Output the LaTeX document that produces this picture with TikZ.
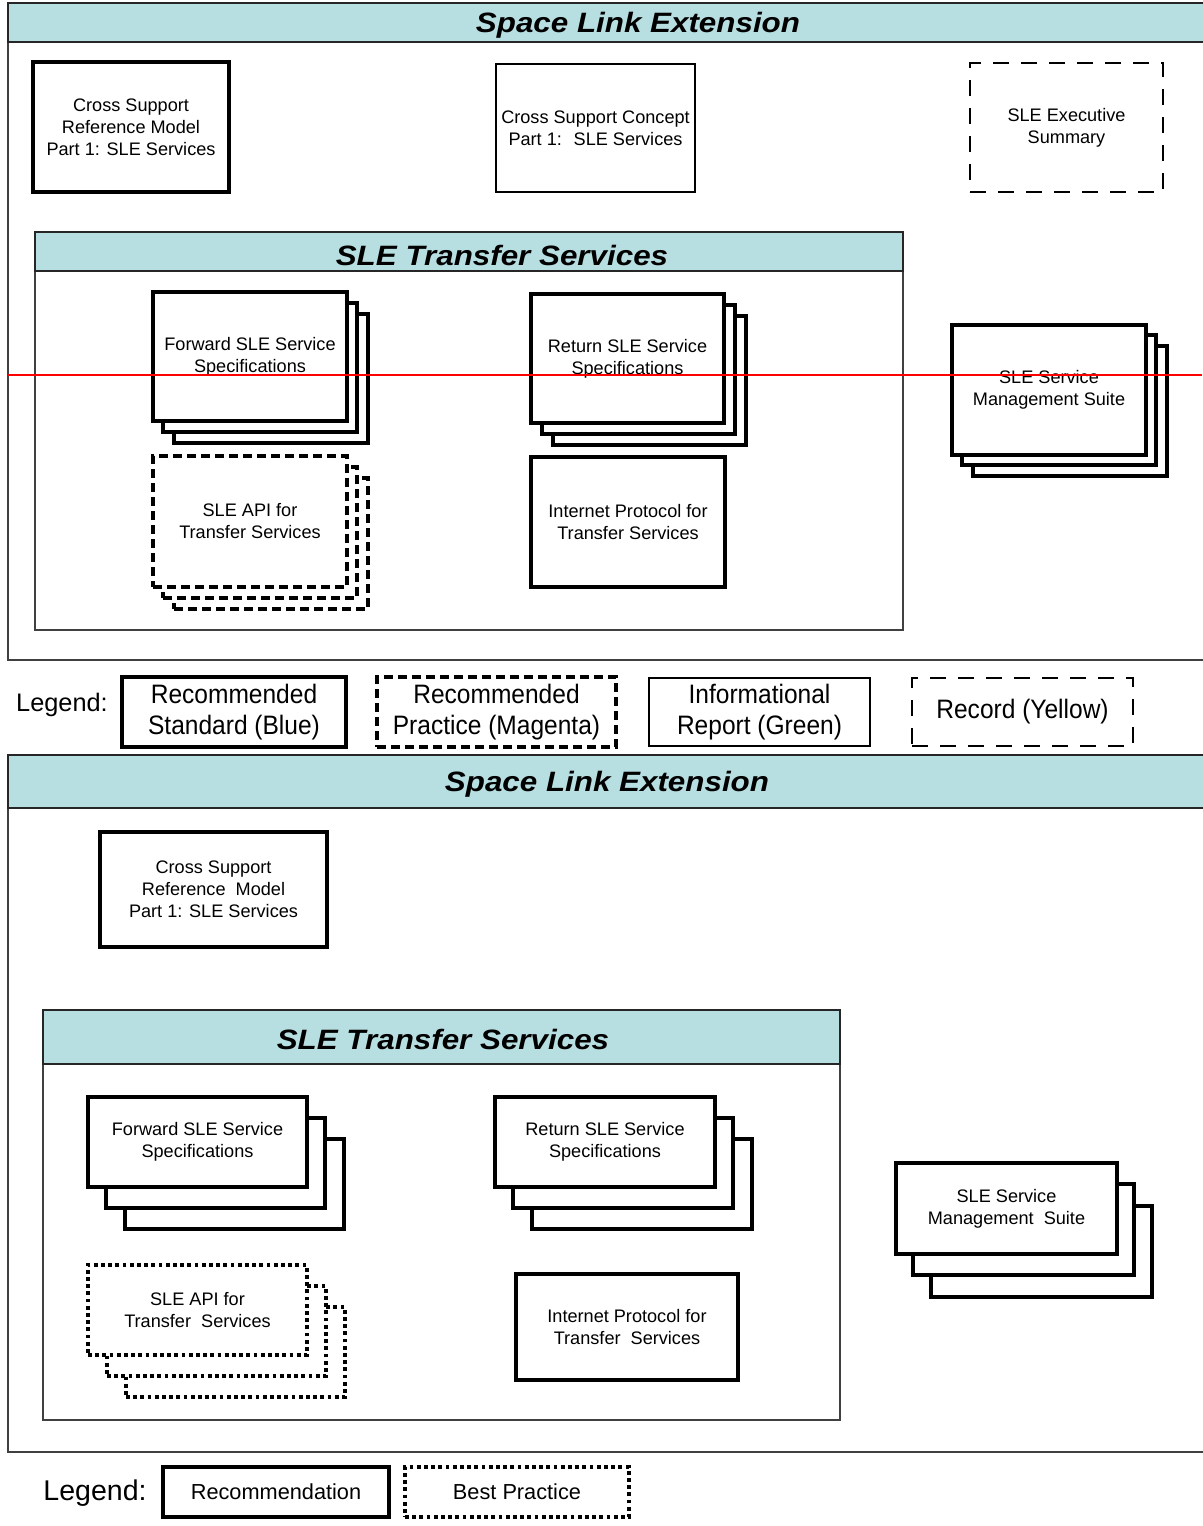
\documentclass[tikz,border=0pt]{standalone}
\usepackage{fontspec}
\setmainfont{Liberation Sans}
\newfontfamily\hdrfont[FakeStretch=1.12]{Liberation Sans}
\newfontfamily\legfont[FakeStretch=0.92]{Liberation Sans}
\usepackage{tikz}
\definecolor{hdrblue}{RGB}{183,222,225}

\begin{document}
\begin{tikzpicture}[
        x=0.75pt, y=-0.75pt,
        panel/.style={draw=black!75, line width=1.1pt},
        band/.style={fill=hdrblue, draw=black!85, line width=1.3pt},
        hdr/.style={font=\hdrfont\fontsize{21}{24}\selectfont\bfseries\itshape},
        wh/.style 2 args={minimum width=#1, minimum height=#2},
        doc/.style={
          rectangle,
          draw,
          fill=white,
          align=center,
          inner sep=0pt,
          font=\fontsize{13.6}{16.5}\selectfont
        },
        stdbox/.style={doc, line width=3pt},
        midbox/.style={doc, line width=2.6pt},
        thinbox/.style={doc, line width=1.1pt},
        pracbox/.style={doc, line width=3pt, dash pattern=on 7pt off 3.5pt},
        recbox/.style={doc, line width=1.1pt, dash pattern=on 12pt off 9pt},
        dotbox/.style={doc, line width=2.6pt, dash pattern=on 2.8pt off 2.6pt},
        leg/.style={font=\legfont\fontsize{20}{23.5}\selectfont},
        legB/.style={font=\fontsize{16.3}{19}\selectfont}
      ]

      \useasboundingbox (0,0) rectangle (1202,1526);
      \fill[white] (0,0) rectangle (1202,1526);

      % Upper panel
      \draw[panel] (8,3) rectangle (1210,660);
      \draw[band] (8,3) rectangle (1210,42);
      \node[hdr] (sleA) at (638,25) {Space Link Extension};

      \node[stdbox, wh={147pt}{97.5pt}] (csrmA) at (131,127) {Cross Support\\Reference Model\\Part 1: SLE Services};
      \node[thinbox, wh={149.25pt}{96pt}] (cscA) at (595.5,128) {Cross Support Concept\\Part 1:~ SLE Services};
      \node[recbox, wh={144.75pt}{96.75pt}] (execA) at (1066.5,127.5) {SLE Executive\\Summary};

      \draw[panel] (35,232) rectangle (903,630);
      \draw[band] (35,232) rectangle (903,271);
      \node[hdr] (tsA) at (502,255) {SLE Transfer Services};

      % Stacks (back copies first)
      \node[stdbox, wh={145.5pt}{96.75pt}] (fwdA3) at (271,378.5) {};
      \node[stdbox, wh={145.5pt}{96.75pt}] (fwdA2) at (260,367.5) {};
      \node[stdbox, wh={145.5pt}{96.75pt}] (fwdA) at (250,356.5) {Forward SLE Service\\Specifications};

      \node[pracbox, wh={145.5pt}{98.25pt}] (apiA3) at (271,543.5) {};
      \node[pracbox, wh={145.5pt}{98.25pt}] (apiA2) at (260,532.5) {};
      \node[pracbox, wh={145.5pt}{98.25pt}] (apiA) at (250,521.5) {SLE API for\\Transfer Services};

      \node[stdbox, wh={144.75pt}{96.75pt}] (retA3) at (649.5,380.5) {};
      \node[stdbox, wh={144.75pt}{96.75pt}] (retA2) at (638.5,369.5) {};
      \node[stdbox, wh={144.75pt}{96.75pt}] (retA) at (627.5,358.5) {Return SLE Service\\Specifications};

      \node[stdbox, wh={145.5pt}{97.5pt}] (ipA) at (628,522) {Internet Protocol for\\Transfer Services};

      \node[stdbox, wh={145.5pt}{97.5pt}] (smsA3) at (1070,411) {};
      \node[stdbox, wh={145.5pt}{97.5pt}] (smsA2) at (1059,400) {};
      \node[stdbox, wh={145.5pt}{97.5pt}] (smsA) at (1049,390) {SLE Service\\Management Suite};

      % Legend, upper
      \node[font=\fontsize{19}{23}\selectfont] (legA) at (62,705) {Legend:};
      \node[stdbox, leg, wh={168pt}{52.5pt}] (rsA) at (234,712) {Recommended\\Standard (Blue)};
      \node[pracbox, leg, wh={179.25pt}{52.5pt}] (rpA) at (496.5,712) {Recommended\\Practice (Magenta)};
      \node[thinbox, leg, wh={165.75pt}{51pt}] (irA) at (759.5,712) {Informational\\Report (Green)};
      \node[recbox, leg, wh={165.75pt}{51pt}] (recA) at (1022.5,712) {Record (Yellow)};

      % Lower panel
      \draw[panel] (8,755) rectangle (1210,1452);
      \draw[band] (8,755) rectangle (1210,808);
      \node[hdr] (sleB) at (607,784) {Space Link Extension};

      \node[midbox, wh={170.25pt}{86.25pt}] (csrmB) at (213.5,889.5) {Cross Support\\Reference~ Model\\Part 1: SLE Services};

      \draw[panel] (43,1010) rectangle (840,1420);
      \draw[band] (43,1010) rectangle (840,1064);
      \node[hdr] (tsB) at (443,1039) {SLE Transfer Services};

      \node[midbox, wh={164.25pt}{67.5pt}] (fwdB3) at (234.5,1184) {};
      \node[midbox, wh={164.25pt}{67.5pt}] (fwdB2) at (215.5,1163) {};
      \node[midbox, wh={164.25pt}{67.5pt}] (fwdB) at (197.5,1142) {Forward SLE Service\\Specifications};

      \node[midbox, wh={165pt}{67.5pt}] (retB3) at (642,1184) {};
      \node[midbox, wh={165pt}{67.5pt}] (retB2) at (623,1163) {};
      \node[midbox, wh={165pt}{67.5pt}] (retB) at (605,1142) {Return SLE Service\\Specifications};

      \node[dotbox, wh={164.25pt}{67.5pt}] (apiB3) at (235.5,1352) {};
      \node[dotbox, wh={164.25pt}{67.5pt}] (apiB2) at (216.5,1331) {};
      \node[dotbox, wh={164.25pt}{67.5pt}] (apiB) at (197.5,1310) {SLE API for\\Transfer~ Services};

      \node[midbox, wh={166.5pt}{79.5pt}] (ipB) at (627,1327) {Internet Protocol for\\Transfer~ Services};

      \node[midbox, wh={165.75pt}{68.25pt}] (smsB3) at (1041.5,1251.5) {};
      \node[midbox, wh={165.75pt}{68.25pt}] (smsB2) at (1023.5,1229.5) {};
      \node[midbox, wh={165.75pt}{68.25pt}] (smsB) at (1006.5,1208.5) {SLE Service\\Management~ Suite};

      % Legend, lower
      \node[font=\fontsize{21.4}{25}\selectfont] (legB) at (95,1493) {Legend:};
      \node[midbox, legB, wh={169.5pt}{37.5pt}] (recoB) at (276,1492) {Recommendation};
      \node[dotbox, legB, wh={168pt}{37.5pt}] (bpB) at (517,1492) {Best Practice};

      % Red rule across the upper panel
      \coordinate (redL) at (8,375);
      \coordinate (redR) at (1202,375);
      \draw[red, line width=1pt] (redL) -- (redR);

    \end{tikzpicture}
\end{document}
